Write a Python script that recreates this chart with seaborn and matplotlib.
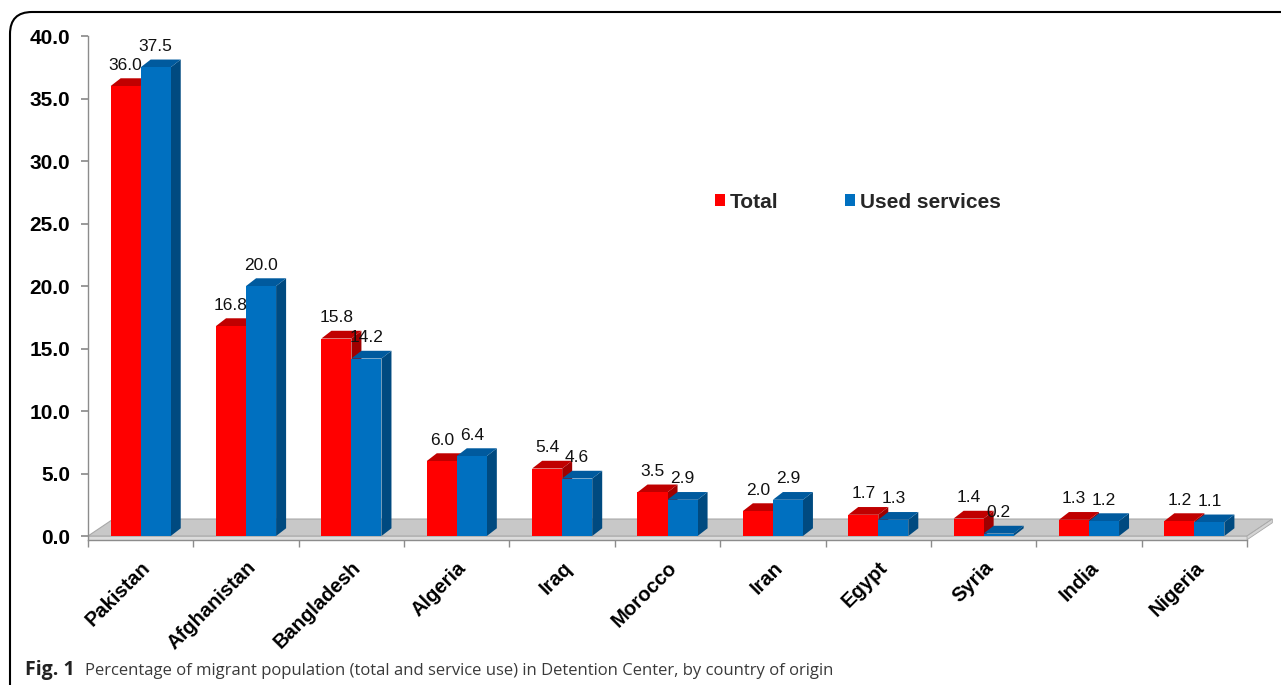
import matplotlib
matplotlib.use("Agg")
import matplotlib.pyplot as plt
import matplotlib.transforms as mtransforms
import seaborn as sns
import pandas as pd
import numpy as np
from matplotlib.patches import Polygon, Patch, FancyBboxPatch

# ---------------- data ----------------
countries = ["Pakistan", "Afghanistan", "Bangladesh", "Algeria", "Iraq", "Morocco",
             "Iran", "Egypt", "Syria", "India", "Nigeria"]
series = ["Total", "Used services"]
total = [36.0, 16.8, 15.8, 6.0, 5.4, 3.5, 2.0, 1.7, 1.4, 1.3, 1.2]
used = [37.5, 20.0, 14.2, 6.4, 4.6, 2.9, 2.9, 1.3, 0.2, 1.2, 1.1]
y_ticks = [0, 5, 10, 15, 20, 25, 30, 35, 40]
caption_bold = "Fig. 1"
caption_text = ("Percentage of migrant population (total and service use) in "
                "Detention Center, by country of origin")

df = pd.DataFrame({
    "country": countries * 2,
    "series": [series[0]] * len(countries) + [series[1]] * len(countries),
    "value": total + used,
})

front_c = {"Total": "#FF0000", "Used services": "#0070C0"}
top_c = {"Total": "#C00000", "Used services": "#005A9E"}
side_c = {"Total": "#A00000", "Used services": "#004A80"}

# ---------------- figure ----------------
sns.set_theme(style="ticks")
plt.rcParams["font.family"] = ["Liberation Sans", "DejaVu Sans"]

fig = plt.figure(figsize=(12.81, 6.85), dpi=100)
ax = fig.add_axes([0.0687, 0.212, 0.9048, 0.7354])

sns.barplot(data=df, x="country", y="value", hue="series", order=countries,
            hue_order=series, palette=front_c, width=0.57, gap=0, saturation=1,
            legend=False, ax=ax, zorder=3, edgecolor="none", linewidth=0)

ax.set_xlim(-0.5, len(countries) - 0.5)
ax.set_ylim(-0.3, 40)

# 3D depth (data units)
dx, dy = 0.095, 0.62

# floor
x0, x1 = -0.5, len(countries) - 0.5
fdx, fdy = 0.24, 1.36
ax.add_patch(Polygon([(x0, 0), (x1, 0), (x1 + fdx, fdy), (x0 + fdx, fdy)],
                     closed=True, facecolor="#C8C8C8", edgecolor="#A8A8A8",
                     linewidth=0.8, zorder=1, clip_on=False))
ax.add_patch(Polygon([(x0, -0.3), (x1, -0.3), (x1, 0), (x0, 0)], closed=True,
                     facecolor="#DCDCDC", edgecolor="#B0B0B0", linewidth=0.6,
                     zorder=1, clip_on=False))
ax.add_patch(Polygon([(x1, -0.3), (x1 + fdx, fdy - 0.3), (x1 + fdx, fdy), (x1, 0)],
                     closed=True, facecolor="#D4D4D4", edgecolor="#A8A8A8",
                     linewidth=0.6, zorder=1, clip_on=False))

label_font = ["Liberation Sans Narrow", "Liberation Sans", "DejaVu Sans"]
for name, cont in zip(series, ax.containers):
    for bar in cont:
        x = bar.get_x()
        w = bar.get_width()
        h = bar.get_height()
        ax.add_patch(Polygon([(x + w, 0), (x + w + dx, dy), (x + w + dx, h + dy), (x + w, h)],
                             closed=True, facecolor=side_c[name], edgecolor="none",
                             zorder=2.5))
        ax.add_patch(Polygon([(x, h), (x + w, h), (x + w + dx, h + dy), (x + dx, h + dy)],
                             closed=True, facecolor=top_c[name], edgecolor="none",
                             zorder=2.5))
        ax.annotate(f"{h:.1f}", xy=(x + w / 2, h + dy), xytext=(0, 4),
                    textcoords="offset points", ha="center", va="bottom",
                    fontsize=12.5, family=label_font, color="#111111", zorder=5)

# axes styling
for s in ["top", "right"]:
    ax.spines[s].set_visible(False)
for s in ["left", "bottom"]:
    ax.spines[s].set_color("#8C8C8C")
    ax.spines[s].set_linewidth(1.0)

ax.set_yticks(y_ticks)
ax.set_yticklabels([f"{t:.1f}" for t in y_ticks], fontsize=15, fontweight="bold")
ax.tick_params(axis="y", length=5, color="#8C8C8C", pad=8, labelcolor="black")

ax.set_xticks(range(len(countries)))
ax.set_xticklabels(countries, rotation=45, ha="right", va="top",
                   rotation_mode="anchor", fontsize=14.5, fontweight="bold")
ax.tick_params(axis="x", which="major", length=0, pad=13, labelcolor="black")
ax.set_xticks(np.arange(-0.5, len(countries), 1), minor=True)
ax.tick_params(axis="x", which="minor", length=5, color="#8C8C8C", width=1.0)
ax.set_xlabel("")
ax.set_ylabel("")

# legend
handles = [Patch(facecolor=front_c[s], edgecolor="none", label=s) for s in series]
ax.legend(handles=handles, loc="center left", bbox_to_anchor=(0.541, 0.670), ncol=2,
          frameon=False, prop=dict(weight="bold", size=15), handlelength=0.5,
          handleheight=0.5, handletextpad=0.2, columnspacing=3.2,
          borderaxespad=0, borderpad=0)

# outer rounded frame (pixel coords)
frame = FancyBboxPatch((10, -60), 1400, 685 - 12 + 60,
                       boxstyle="round,pad=0,rounding_size=22",
                       transform=mtransforms.IdentityTransform(),
                       facecolor="none", edgecolor="black", linewidth=1.5)
fig.add_artist(frame)

# caption
cap_font = ["Open Sans", "DejaVu Sans"]
cap_y = 1 - 675 / 685
fig.text(25 / 1281, cap_y, caption_bold, fontsize=14, fontweight="bold",
         family=cap_font, va="baseline", ha="left", color="#222222")
fig.text(85 / 1281, cap_y, caption_text, fontsize=12,
         family=cap_font, va="baseline", ha="left", color="#3A3A3A")

fig.savefig("out.png", dpi=100)
